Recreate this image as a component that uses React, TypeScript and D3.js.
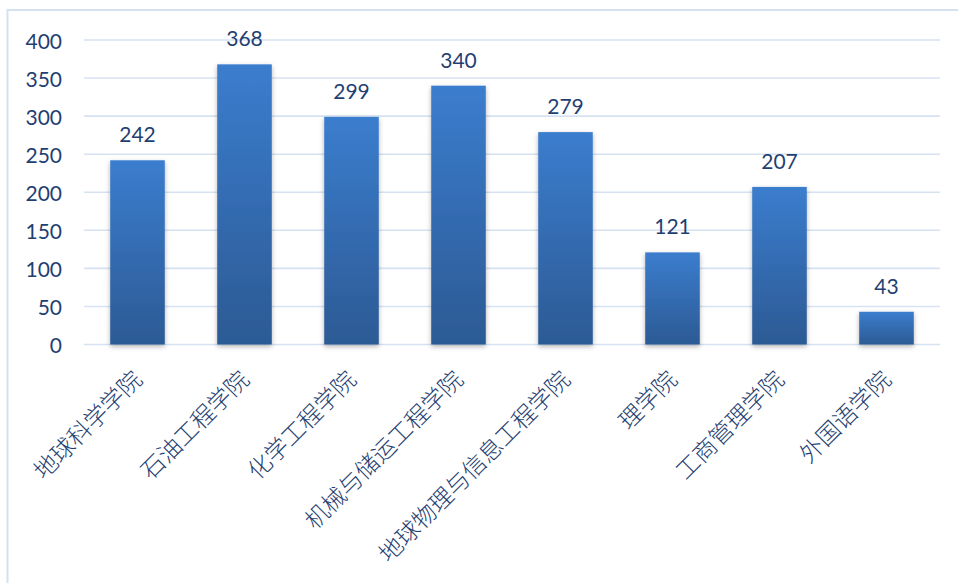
import React from "react";
import * as d3 from "d3";

const categories = [
  "地球科学学院",
  "石油工程学院",
  "化学工程学院",
  "机械与储运工程学院",
  "地球物理与信息工程学院",
  "理学院",
  "工商管理学院",
  "外国语学院",
];
const values = [242, 368, 299, 340, 279, 121, 207, 43];
const yTicks = [0, 50, 100, 150, 200, 250, 300, 350, 400];

const W = 958;
const H = 583;
const plot = { left: 84, right: 940, top: 40, bottom: 344.5 };
const textColor = "#1F3F73";
const numFont = "Lato, 'Open Sans', sans-serif";
const cjkFont = "'Noto Sans CJK SC', sans-serif";

export default function App() {
  const x = d3
    .scaleBand<string>()
    .domain(categories)
    .range([plot.left, plot.right])
    .paddingInner(0.49)
    .paddingOuter(0.245);
  const y = d3.scaleLinear().domain([0, 400]).range([plot.bottom, plot.top]);

  return (
    <svg
      width={W}
      height={H}
      style={{ position: "absolute", left: 0, top: 0, background: "#fff" }}
    >
      <defs>
        <linearGradient id="barGrad" x1="0" y1="0" x2="0" y2="1">
          <stop offset="0%" stopColor="#3B7DCE" />
          <stop offset="100%" stopColor="#2C5A94" />
        </linearGradient>
        <filter id="shadow" x="-30%" y="-10%" width="160%" height="130%">
          <feDropShadow dx="0" dy="2" stdDeviation="2.5" floodColor="#000" floodOpacity="0.3" />
        </filter>
      </defs>
      <rect x={7.5} y={10} width={W + 20} height={H + 20} fill="#fff" stroke="#D5E1F1" strokeWidth={2} />
      {yTicks.map((t) => (
        <g key={t}>
          <line
            x1={plot.left}
            x2={plot.right}
            y1={y(t)}
            y2={y(t)}
            stroke="#D6E2F2"
            strokeWidth={1.6}
          />
          <text
            x={62}
            y={y(t)}
            textAnchor="end"
            dominantBaseline="central"
            fontFamily={numFont}
            fontSize={21}
            fill={textColor}
          >
            {t}
          </text>
        </g>
      ))}
      {categories.map((c, i) => {
        const bx = x(c)!;
        const bw = x.bandwidth();
        const cx = bx + bw / 2;
        return (
          <g key={c}>
            <rect
              x={bx}
              y={y(values[i])}
              width={bw}
              height={y(0) - y(values[i])}
              fill="url(#barGrad)"
              filter="url(#shadow)"
            />
            <text
              x={cx}
              y={y(values[i]) - 18}
              textAnchor="middle"
              fontFamily={numFont}
              fontSize={21}
              fill={textColor}
            >
              {values[i]}
            </text>
            <text
              transform={`translate(${cx - 1},${374}) rotate(-45)`}
              textAnchor="end"
              dominantBaseline="central"
              fontFamily={cjkFont}
              fontWeight={300}
              fontSize={23.5}
              fill={textColor}
            >
              {c}
            </text>
          </g>
        );
      })}
    </svg>
  );
}
